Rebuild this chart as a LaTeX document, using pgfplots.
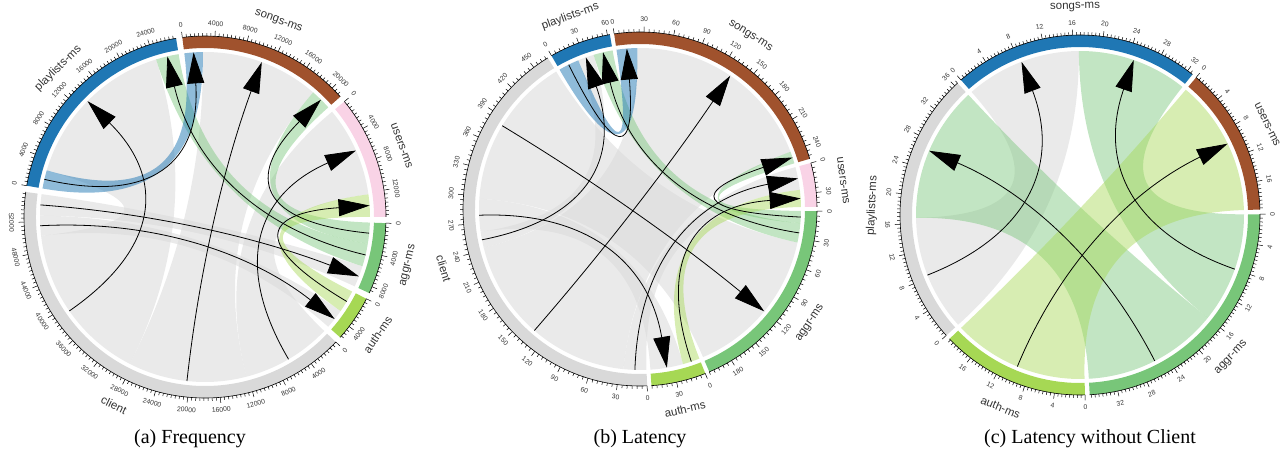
\documentclass[border=0pt]{standalone}
\usepackage{fontspec}
\setmainfont{Liberation Serif}
\setsansfont{Liberation Sans}
\usepackage{pgfplots}
\pgfplotsset{compat=1.18}
\usetikzlibrary{arrows.meta}

\definecolor{cPl}{HTML}{1F77B4}
\definecolor{cSo}{HTML}{A0522D}
\definecolor{cUs}{HTML}{F9D3E6}
\definecolor{cAg}{HTML}{78C679}
\definecolor{cAu}{HTML}{A6D854}
\definecolor{cCl}{HTML}{D9D9D9}
\definecolor{txt}{HTML}{333333}

\newcommand\ticklabelfont{\sffamily\fontsize{6.8}{7}\selectfont}
\newcommand\namefont{\sffamily\fontsize{11.5}{12}\selectfont}

% chart centre (axis units) and outer ring radius
\newcommand\setchart[3]{\def\CX{#1}\def\CY{#2}\def\RO{#3}\pgfmathsetmacro\RI{#3-12}\pgfmathsetmacro\RR{#3-16}}
% point at radius #1, angle #2 (clockwise from top)
\newcommand\chpt[4]{\pgfmathsetmacro#3{\CX+(#1)*sin(#2)}\pgfmathsetmacro#4{\CY+(#1)*cos(#2)}}

\newcommand\segment[3]{%
  \chpt{\RO}{#1}{\qAx}{\qAy}\chpt{\RI}{#2}{\qBx}{\qBy}%
  \pgfmathsetmacro\phA{90-(#1)}\pgfmathsetmacro\phB{90-(#2)}%
  \edef\tmp{\noexpand\fill[#3] (axis cs:\qAx,\qAy) arc[start angle=\phA, end angle=\phB, radius=\RO pt] -- (axis cs:\qBx,\qBy) arc[start angle=\phB, end angle=\phA, radius=\RI pt] -- cycle;}\tmp
  \edef\tmp{\noexpand\draw[line width=0.6pt] (axis cs:\qAx,\qAy) arc[start angle=\phA, end angle=\phB, radius=\RO pt];}\tmp}

% start angle, units per degree, number of minor steps, minor step, minor per major, label step
\newcommand\ticks[6]{%
  \foreach \n in {0,...,#3}{%
    \pgfmathsetmacro\thA{#1+\n*(#4/#2)}%
    \pgfmathtruncatemacro\ism{mod(\n,#5)}%
    \ifnum\ism=0 \def\tl{5.5}\else\def\tl{3}\fi
    \pgfmathsetmacro\rt{\RO+\tl}%
    \chpt{\RO}{\thA}{\qAx}{\qAy}\chpt{\rt}{\thA}{\qBx}{\qBy}%
    \edef\tmp{\noexpand\draw[line width=0.5pt] (axis cs:\qAx,\qAy) -- (axis cs:\qBx,\qBy);}\tmp
    \ifnum\ism=0
      \pgfmathsetmacro\rl{\RO+12.5}\chpt{\rl}{\thA}{\qLx}{\qLy}%
      \pgfmathsetmacro\rot{cos(\thA)<0 ? 180-(\thA) : 0-(\thA)}%
      \edef\val{\the\numexpr\n/#5*#6\relax}%
      \edef\tmp{\noexpand\node[font=\noexpand\ticklabelfont, text=txt, rotate=\rot, inner sep=0pt] at (axis cs:\qLx,\qLy) {\val};}\tmp
    \fi}}

\newcommand\gname[3]{%
  \pgfmathsetmacro\thA{(#1+#2)/2}\pgfmathsetmacro\rl{\RO+28}\chpt{\rl}{\thA}{\qLx}{\qLy}%
  \pgfmathsetmacro\rot{cos(\thA)<0 ? 180-(\thA) : 0-(\thA)}%
  \edef\tmp{\noexpand\node[font=\noexpand\namefont, text=txt, rotate=\rot, inner sep=0pt] at (axis cs:\qLx,\qLy) {#3};}\tmp}

% source arc #1-#2, target arc #3-#4, colour, opacity
\newcommand\ribbon[6]{%
  \chpt{\RR}{#1}{\qAx}{\qAy}\chpt{\RR}{#3}{\qCx}{\qCy}%
  \chpt{\RR/3}{#1}{\qax}{\qay}\chpt{\RR/3}{#2}{\qbx}{\qby}\chpt{\RR/3}{#3}{\qcx}{\qcy}\chpt{\RR/3}{#4}{\qdx}{\qdy}%
  \pgfmathsetmacro\phA{90-(#1)}\pgfmathsetmacro\phB{90-(#2)}\pgfmathsetmacro\phC{90-(#3)}\pgfmathsetmacro\phD{90-(#4)}%
  \edef\tmp{\noexpand\fill[#5, fill opacity=#6] (axis cs:\qAx,\qAy) arc[start angle=\phA, end angle=\phB, radius=\RR pt] .. controls (axis cs:\qbx,\qby) and (axis cs:\qcx,\qcy) .. (axis cs:\qCx,\qCy) arc[start angle=\phC, end angle=\phD, radius=\RR pt] .. controls (axis cs:\qdx,\qdy) and (axis cs:\qax,\qay) .. (axis cs:\qAx,\qAy) -- cycle;}\tmp}

\newcommand\chordarrow[2]{%
  \chpt{\RR}{#1}{\qAx}{\qAy}\chpt{\RR}{#2}{\qBx}{\qBy}\chpt{\RR/3}{#1}{\qax}{\qay}\chpt{\RR/3}{#2}{\qbx}{\qby}%
  \edef\tmp{\noexpand\draw[line width=0.8pt, -{Triangle[length=31pt, width=17pt]}] (axis cs:\qAx,\qAy) .. controls (axis cs:\qax,\qay) and (axis cs:\qbx,\qby) .. (axis cs:\qBx,\qBy);}\tmp}

\begin{document}
\begin{tikzpicture}
\begin{axis}[x=1pt, y=1pt, xmin=0, xmax=1283, ymin=0, ymax=451,
  hide axis, clip=false, disabledatascaling, anchor=origin, at={(0,0)}]
\path (axis cs:0,0) rectangle (axis cs:1283,451);

% ================= (a) Frequency =================
\setchart{205}{234}{181}
\segment{-7.2}{48.36}{cSo}    \ticks{-7.2}{386.1}{42}{500}{8}{4000}   \gname{-7.2}{48.36}{songs-ms}
\segment{50.36}{89.94}{cUs}   \ticks{50.36}{386.1}{30}{500}{8}{4000}  \gname{50.36}{89.94}{users-ms}
\segment{91.94}{114.86}{cAg}  \ticks{91.94}{386.1}{17}{500}{8}{4000}  \gname{91.94}{114.86}{aggr-ms}
\segment{116.86}{131.70}{cAu} \ticks{116.86}{386.1}{11}{500}{8}{4000} \gname{116.86}{131.70}{auth-ms}
\segment{133.70}{277.96}{cCl} \ticks{133.70}{386.1}{111}{500}{8}{4000} \gname{133.70}{277.96}{client}
\segment{279.96}{350.80}{cPl} \ticks{279.96}{386.1}{54}{500}{8}{4000} \gname{279.96}{350.80}{playlists-ms}
\ribbon{207.13}{263.46}{286.44}{342.77}{cCl}{0.55}
\ribbon{165.43}{207.13}{-0.725}{40.975}{cCl}{0.55}
\ribbon{133.70}{165.43}{50.36}{82.09}{cCl}{0.55}
\ribbon{270.45}{277.96}{107.35}{114.86}{cCl}{0.55}
\ribbon{263.46}{270.45}{124.71}{131.70}{cCl}{0.55}
\ribbon{99.32}{107.35}{342.77}{350.80}{cAg}{0.45}
\ribbon{279.96}{286.44}{-7.2}{-0.725}{cPl}{0.5}
\ribbon{91.94}{99.32}{40.975}{48.355}{cAg}{0.45}
\ribbon{116.86}{124.71}{82.09}{89.94}{cAu}{0.45}
\chordarrow{235.3}{314.6}
\chordarrow{103.3}{346.8}
\chordarrow{283.2}{-3.96}
\chordarrow{186.28}{20.13}
\chordarrow{95.63}{44.67}
\chordarrow{149.57}{66.23}
\chordarrow{120.79}{86.02}
\chordarrow{274.2}{111.1}
\chordarrow{266.96}{128.2}
\node[font=\fontsize{20}{24}\selectfont, anchor=base] at (axis cs:190,8) {(a) Frequency};

% ================= (b) Latency =================
\setchart{640}{242}{177}
\segment{-30.0}{-9.80}{cPl}   \ticks{-30.0}{3.0944}{12}{5}{6}{30}   \gname{-30.0}{-9.80}{playlists-ms}
\segment{-8.40}{73.52}{cSo}   \ticks{-8.40}{3.0944}{50}{5}{6}{30}   \gname{-8.40}{73.52}{songs-ms}
\segment{74.92}{89.30}{cUs}   \ticks{74.92}{3.0944}{8}{5}{6}{30}    \gname{74.92}{89.30}{users-ms}
\segment{90.70}{156.95}{cAg}  \ticks{90.70}{3.0944}{41}{5}{6}{30}   \gname{90.70}{156.95}{aggr-ms}
\segment{158.35}{176.29}{cAu} \ticks{158.35}{3.0944}{11}{5}{6}{30}  \gname{158.35}{176.29}{auth-ms}
\segment{177.69}{328.61}{cCl} \ticks{177.69}{3.0944}{93}{5}{6}{30}  \gname{177.69}{328.61}{client}
\ribbon{185.93}{256.06}{-0.97}{69.16}{cCl}{0.55}
\ribbon{273.68}{328.62}{102.01}{156.95}{cCl}{0.55}
\ribbon{256.06}{261.88}{-22.57}{-16.75}{cCl}{0.55}
\ribbon{177.69}{185.93}{74.92}{83.16}{cCl}{0.55}
\ribbon{261.88}{273.68}{164.49}{176.29}{cCl}{0.55}
\ribbon{95.06}{102.01}{-16.75}{-9.80}{cAg}{0.45}
\ribbon{-30.0}{-22.57}{-8.40}{-0.97}{cPl}{0.5}
\ribbon{90.70}{95.06}{69.16}{73.52}{cAg}{0.45}
\ribbon{158.35}{164.49}{83.16}{89.30}{cAu}{0.45}
\chordarrow{258.97}{-19.66}
\chordarrow{98.54}{-13.28}
\chordarrow{-26.29}{-4.69}
\chordarrow{221.0}{34.1}
\chordarrow{92.88}{71.34}
\chordarrow{181.81}{79.04}
\chordarrow{161.42}{86.23}
\chordarrow{301.15}{129.48}
\chordarrow{267.78}{170.39}
\node[font=\fontsize{20}{24}\selectfont, anchor=base] at (axis cs:640,8) {(b) Latency};

% ================= (c) Latency without Client =================
\setchart{1080}{236}{180}
\segment{-41.4}{38.67}{cPl}   \ticks{-41.4}{0.40965}{65}{0.5}{8}{4}   \gname{-41.4}{38.67}{songs-ms}
\segment{40.17}{88.26}{cSo}   \ticks{40.17}{0.40965}{39}{0.5}{8}{4}   \gname{40.17}{88.26}{users-ms}
\segment{89.76}{176.91}{cAg}  \ticks{89.76}{0.40965}{71}{0.5}{8}{4}   \gname{89.76}{176.91}{aggr-ms}
\segment{178.41}{226.50}{cAu} \ticks{178.41}{0.40965}{39}{0.5}{8}{4}  \gname{178.41}{226.50}{auth-ms}
\segment{228.00}{317.10}{cCl} \ticks{228.00}{0.40965}{73}{0.5}{8}{4}  \gname{228.00}{317.10}{playlists-ms}
\ribbon{228.00}{269.01}{-41.4}{-0.39}{cCl}{0.55}
\ribbon{128.82}{176.91}{269.01}{317.10}{cAg}{0.45}
\ribbon{89.76}{128.82}{-0.39}{38.67}{cAg}{0.45}
\ribbon{178.41}{226.50}{40.17}{88.26}{cAu}{0.45}
\chordarrow{248.5}{-20.9}
\chordarrow{152.87}{293.06}
\chordarrow{109.29}{19.14}
\chordarrow{202.46}{64.22}
\node[font=\fontsize{20}{24}\selectfont, anchor=base] at (axis cs:1090,8) {(c) Latency without Client};
\end{axis}
\end{tikzpicture}
\end{document}
